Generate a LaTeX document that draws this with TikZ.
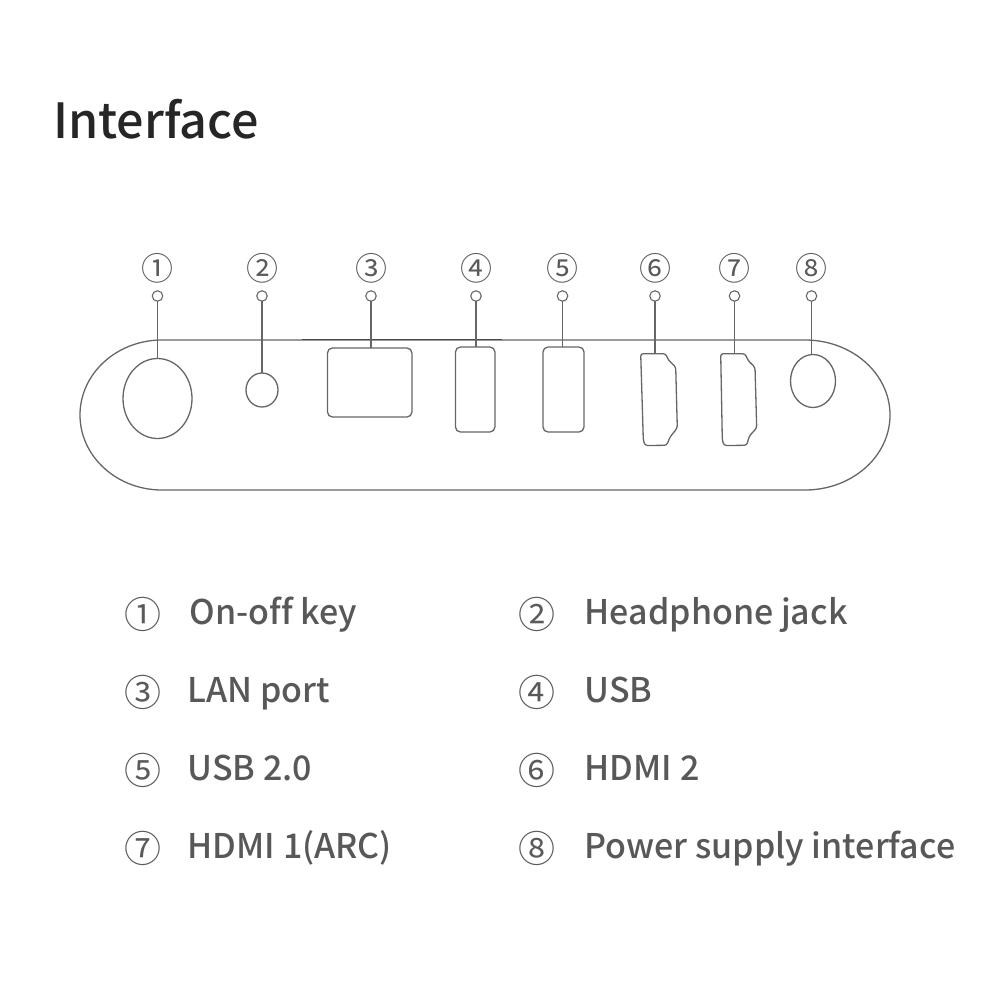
\documentclass[tikz,border=0pt]{standalone}
\usepackage{fontspec}
\setmainfont{Noto Sans CJK SC Medium}
\newfontfamily\numfont{Noto Sans CJK SC}
\usetikzlibrary{shapes.geometric}
\definecolor{ink}{HTML}{666666}
\definecolor{legend}{HTML}{585858}
\definecolor{num}{HTML}{5A5A5A}
\tikzset{
  part/.style={draw=ink,line width=1.3pt,inner sep=0pt,outer sep=0pt},
  roundport/.style={part,ellipse},
  rectport/.style={part,rectangle,rounded corners=5pt},
  dot/.style={part,circle,minimum size=10.5pt,line width=1.1pt},
  lead/.style={draw=ink,line width=1.3pt},
  hdmi/.style={part,rounded corners=2.5pt},
  toplabel/.style={text=num,font=\numfont\fontsize{32}{32}\selectfont,inner sep=0pt},
  legnum/.style={text=num,font=\numfont\fontsize{37}{37}\selectfont,inner sep=0pt},
  legtext/.style={text=legend,font=\fontsize{34}{34}\selectfont,anchor=base west,inner sep=0pt},
}
\begin{document}
\begin{tikzpicture}[x=1pt,y=-1pt]
\useasboundingbox (0,0) rectangle (1000,1000);
\node[anchor=base west,inner sep=0pt,text=black!85,font=\fontsize{48.5}{48.5}\selectfont] (title) at (53,139) {Interface};
% body
\draw[part] (162,340) -- (805,340) arc[start angle=-90,end angle=90,x radius=85,y radius=75] -- (162,490) arc[start angle=90,end angle=270,x radius=82,y radius=75] -- cycle;
\coordinate (thickA) at (302,339.5);
\coordinate (thickB) at (502,339.5);
\draw[draw=ink!70!black,line width=1.6pt] (thickA) -- (thickB);
% ports
\node[roundport,minimum width=69pt,minimum height=80pt] (p1) at (157.5,398.5) {};
\node[roundport,minimum width=32pt,minimum height=34pt] (p2) at (262,390) {};
\node[rectport,minimum width=84.5pt,minimum height=69pt] (p3) at (369.7,382.5) {};
\node[rectport,minimum width=39.5pt,minimum height=85pt] (p4) at (475.2,389.5) {};
\node[rectport,minimum width=41pt,minimum height=85pt] (p5) at (563.5,389.5) {};
\node[roundport,minimum width=45pt,minimum height=53pt] (p8) at (813,381) {};
\coordinate (p6) at (655,354);
\coordinate (p7) at (734.5,354);
\draw[hdmi] (640.7,353.7) -- (665.7,353.7) -- (668.3,360) -- (675.7,367) -- (677.3,428) -- (670,437) -- (666.7,445.3) -- (645,445.5) -- (643.3,440) -- cycle;
\draw[hdmi] (720.7,353.7) -- (745,353.7) -- (748.3,360.7) -- (755,367.3) -- (756.7,428) -- (749.3,436) -- (746.7,445.3) -- (724,445.5) -- (722.3,440) -- cycle;
% dots
\foreach \n/\x in {1/157.5,2/262,3/371,4/476,5/562.5,6/655,7/734.5,8/811.5}{
  \node[dot] (d\n) at (\x,296) {};
  \node[toplabel] (t\n) at (\x,268) {\ifcase\n\or ①\or ②\or ③\or ④\or ⑤\or ⑥\or ⑦\or ⑧\fi};
}
\draw[lead] (d1) -- (d1 |- p1.north);
\draw[lead] (d2) -- (d2 |- p2.north);
\draw[lead] (d3) -- (d3 |- p3.north);
\draw[lead] (d4) -- (d4 |- p4.north);
\draw[lead] (d5) -- (d5 |- p5.north);
\draw[lead] (d6) -- (p6);
\draw[lead] (d7) -- (p7);
\draw[lead] (d8) -- (d8 |- p8.north);
% legend
\node[legnum] (n1) at (143,614) {①}; \node[legtext] (l1) at (189.5,624) {On-of\kern0ptf key};
\node[legnum] (n2) at (537,614) {②}; \node[legtext] (l2) at (584.5,624) {Headphone jack};
\node[legnum] (n3) at (143,692) {③}; \node[legtext] (l3) at (187.5,702) {LAN port};
\node[legnum] (n4) at (537,692) {④}; \node[legtext] (l4) at (584.5,702) {USB};
\node[legnum] (n5) at (143,770) {⑤}; \node[legtext] (l5) at (187.5,780) {USB 2.0};
\node[legnum] (n6) at (537,770) {⑥}; \node[legtext] (l6) at (584.5,780) {HDMI 2};
\node[legnum] (n7) at (143,848) {⑦}; \node[legtext] (l7) at (187.5,858) {HDMI 1(ARC)};
\node[legnum] (n8) at (537,848) {⑧}; \node[legtext] (l8) at (584.5,858) {Power supply interface};
\end{tikzpicture}
\end{document}
